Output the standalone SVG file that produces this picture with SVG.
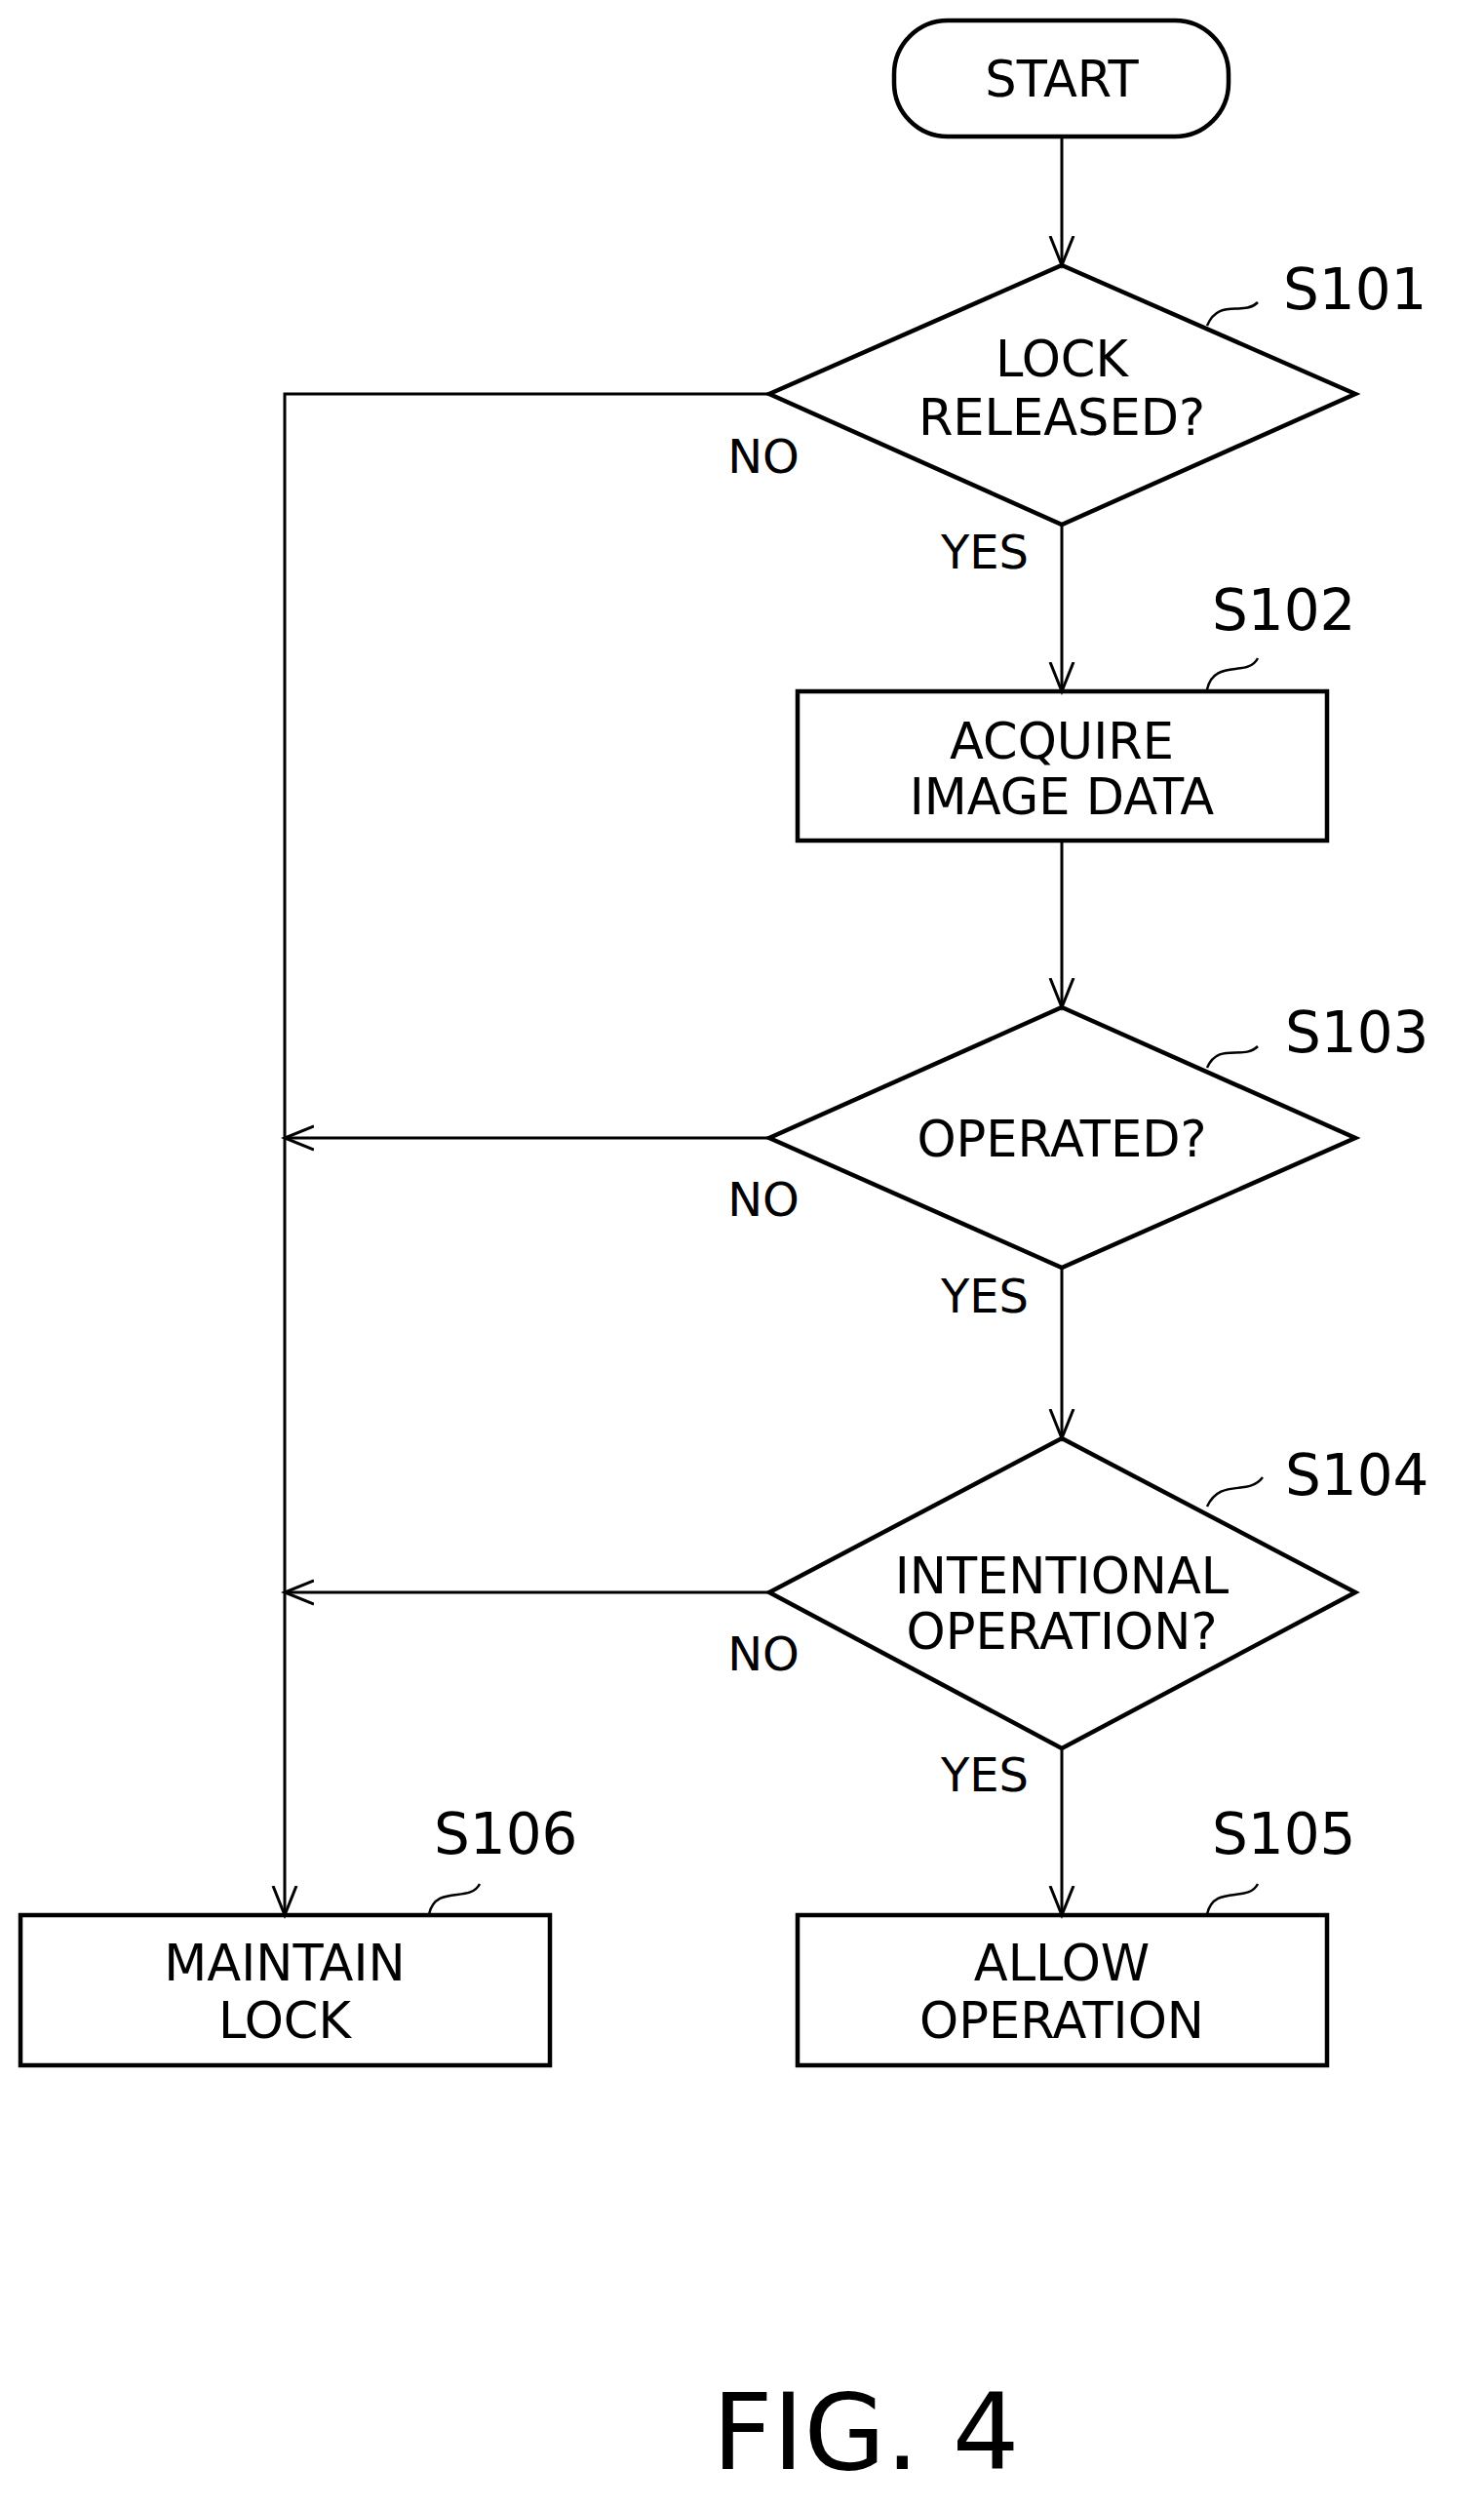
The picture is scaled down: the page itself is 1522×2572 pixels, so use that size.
<svg xmlns="http://www.w3.org/2000/svg" width="1522" height="2572" viewBox="0 0 1522 2572">
<style>
.s{fill:none;stroke:#000;stroke-width:4.5}
.c{fill:none;stroke:#000;stroke-width:3}
.l{fill:none;stroke:#000;stroke-width:2.5}
text{font-family:"DejaVu Sans",sans-serif;font-size:51px;fill:#000;text-anchor:middle}
.lab{text-anchor:start;font-size:58px}
.yn{font-size:48px}
</style>
<defs><marker id="a" markerWidth="40" markerHeight="40" refX="30" refY="15" orient="auto" markerUnits="userSpaceOnUse" viewBox="0 0 40 30"><path d="M0,3 L30,15 L0,27" fill="none" stroke="#000" stroke-width="3"/></marker></defs>
<rect x="0" y="0" width="1522" height="2572" fill="#fff"/>
<g id="connectors">
<path class="c" d="M1089,140 V272" marker-end="url(#a)"/>
<path class="c" d="M1089,538 V709" marker-end="url(#a)"/>
<path class="c" d="M1089,862 V1033" marker-end="url(#a)"/>
<path class="c" d="M1089,1300 V1475" marker-end="url(#a)"/>
<path class="c" d="M1089,1793 V1964" marker-end="url(#a)"/>
<path class="c" d="M789,404 H292 V1964" marker-end="url(#a)"/>
<path class="c" d="M789,1167 H292" marker-end="url(#a)"/>
<path class="c" d="M789,1633 H292" marker-end="url(#a)"/>
<text class="yn" x="783" y="485">NO</text>
<text class="yn" x="1010" y="583">YES</text>
<text class="yn" x="783" y="1247">NO</text>
<text class="yn" x="1010" y="1346">YES</text>
<text class="yn" x="783" y="1713">NO</text>
<text class="yn" x="1010" y="1837">YES</text>
</g>
<g id="start"><rect class="s" x="917" y="21" width="343" height="119" rx="55"/><text x="1089" y="99">START</text></g>
<g id="S101"><path class="s" d="M1089,272 L1390,404 L1089,538 L789,404 Z"/><text x="1089" y="386">LOCK</text><text x="1089" y="446">RELEASED?</text>
<path class="l" d="M1238,334 C1250,305 1275,325 1290,310"/><text class="lab" x="1316" y="317">S101</text></g>
<g id="S102"><rect class="s" x="818" y="709" width="543" height="153"/><text x="1089" y="778">ACQUIRE</text><text x="1089" y="835">IMAGE DATA</text>
<path class="l" d="M1238,707 C1245,675 1280,695 1290,675"/><text class="lab" x="1243" y="646">S102</text></g>
<g id="S103"><path class="s" d="M1089,1033 L1390,1167 L1089,1300 L789,1167 Z"/><text x="1089" y="1186">OPERATED?</text>
<path class="l" d="M1238,1095 C1250,1068 1275,1088 1290,1073"/><text class="lab" x="1318" y="1079">S103</text></g>
<g id="S104"><path class="s" d="M1089,1475 L1390,1633 L1089,1793 L789,1633 Z"/><text x="1089" y="1634">INTENTIONAL</text><text x="1089" y="1691">OPERATION?</text>
<path class="l" d="M1238,1545 C1252,1515 1280,1535 1295,1515"/><text class="lab" x="1318" y="1533">S104</text></g>
<g id="S105"><rect class="s" x="818" y="1964" width="543" height="154"/><text x="1089" y="2031">ALLOW</text><text x="1089" y="2090">OPERATION</text>
<path class="l" d="M1238,1963 C1245,1932 1280,1952 1290,1932"/><text class="lab" x="1243" y="1901">S105</text></g>
<g id="S106"><rect class="s" x="21" y="1964" width="543" height="154"/><text x="292" y="2031">MAINTAIN</text><text x="292" y="2090">LOCK</text>
<path class="l" d="M440,1963 C447,1932 482,1952 492,1932"/><text class="lab" x="445" y="1901">S106</text></g>
<text x="888" y="2532" style="font-size:108px">FIG. 4</text>
</svg>
